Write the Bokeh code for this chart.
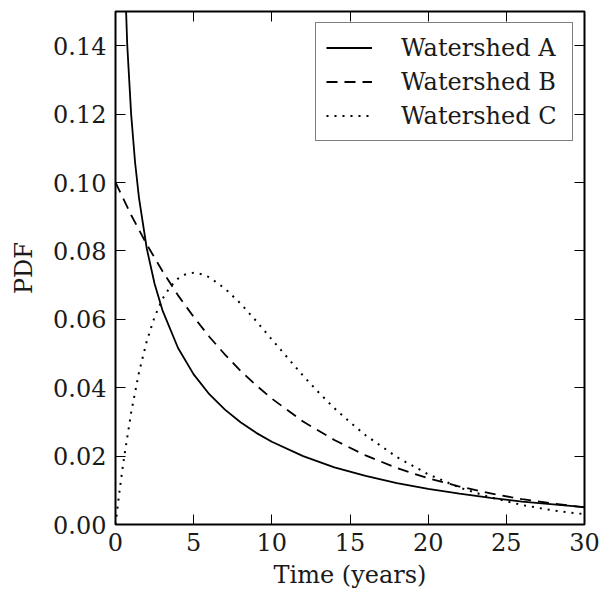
from bokeh.plotting import figure
from bokeh.models import LinearAxis, Range1d, Legend, LegendItem, FixedTicker, CustomJSTickFormatter
from bokeh.embed import file_html
from bokeh.resources import INLINE

# Data
t_a = [0.3, 0.5, 0.75, 1, 1.25, 1.5, 2, 2.5, 3, 4, 5, 6, 7, 8, 9, 10, 12, 14, 16, 18, 20, 22, 24, 26, 28, 30]
pdf_a = [0.227, 0.174, 0.1403, 0.1200, 0.106, 0.0956, 0.0807, 0.0704, 0.0627, 0.0516, 0.0439, 0.0381,
         0.0336, 0.0299, 0.0268, 0.0242, 0.0200, 0.0167, 0.0142, 0.0121, 0.0104, 0.0090, 0.0078,
         0.0067, 0.0059, 0.0051]

t_b = [0, 1, 2, 3, 4, 5, 6, 7, 8, 9, 10, 12, 14, 16, 18, 20, 22, 24, 26, 28, 30]
pdf_b = [0.1, 0.0905, 0.0819, 0.0741, 0.0670, 0.0607, 0.0549, 0.0497, 0.0449, 0.0407, 0.0368,
         0.0301, 0.0247, 0.0202, 0.0165, 0.0135, 0.0111, 0.0091, 0.0074, 0.0061, 0.0050]

t_c = [0, 0.25, 0.5, 1, 1.5, 2, 2.5, 3, 3.5, 4, 4.5, 5, 5.5, 6, 7, 8, 9, 10, 11, 12, 13, 14, 15, 16,
       18, 20, 22, 24, 26, 28, 30]
pdf_c = [0.0, 0.0095, 0.0181, 0.0327, 0.0444, 0.0536, 0.0607, 0.0659, 0.0695, 0.0719, 0.0732, 0.0736,
         0.0732, 0.0723, 0.0690, 0.0646, 0.0595, 0.0541, 0.0488, 0.0435, 0.0386, 0.0340, 0.0299,
         0.0261, 0.0197, 0.0147, 0.0108, 0.0079, 0.0057, 0.0041, 0.0030]

labels = ["Watershed A", "Watershed B", "Watershed C"]
x_ticks = [0, 5, 10, 15, 20, 25, 30]
y_ticks = [0.00, 0.02, 0.04, 0.06, 0.08, 0.10, 0.12, 0.14]

FONT = "DejaVu Serif"
FS = "24px"
TXT = "#1a1a1a"

p = figure(width=600, height=597, output_backend="svg", toolbar_location=None,
           x_range=Range1d(0, 30), y_range=Range1d(0, 0.15),
           min_border_left=115, min_border_right=16, min_border_top=11, min_border_bottom=73,
           x_axis_label="Time (years)", y_axis_label="PDF")
p.grid.visible = False
p.outline_line_color = "black"
p.outline_line_width = 2
p.background_fill_color = "white"
p.border_fill_color = "white"

ra = p.line(t_a, pdf_a, line_color="black", line_width=1.8)
rb = p.line(t_b, pdf_b, line_color="black", line_width=1.8, line_dash="11 7")
rc = p.line(t_c, pdf_c, line_color="black", line_width=2, line_dash="2 6")

def style_axis(ax, ticks, show_labels=True):
    ax.ticker = FixedTicker(ticks=ticks)
    ax.major_tick_in = 10
    ax.major_tick_out = 0
    ax.minor_tick_in = 0
    ax.minor_tick_out = 0
    ax.major_tick_line_width = 1
    ax.axis_line_color = None
    ax.major_label_text_font = FONT
    ax.major_label_text_font_size = FS
    ax.major_label_text_color = TXT
    ax.axis_label_text_font = FONT
    ax.axis_label_text_font_size = FS
    ax.axis_label_text_font_style = "normal"
    ax.axis_label_text_color = TXT
    if not show_labels:
        ax.major_label_text_font_size = "0px"
        ax.major_label_text_alpha = 0

style_axis(p.xaxis[0], x_ticks)
style_axis(p.yaxis[0], y_ticks)
p.xaxis[0].major_label_standoff = 8
p.xaxis[0].axis_label_standoff = 7
p.yaxis[0].major_label_standoff = 9
p.yaxis[0].axis_label_standoff = 12
p.yaxis[0].formatter = CustomJSTickFormatter(code="return tick.toFixed(2);")

top = LinearAxis()
right = LinearAxis()
style_axis(top, x_ticks, show_labels=False)
style_axis(right, y_ticks, show_labels=False)
top.major_label_standoff = 0
right.major_label_standoff = 0
p.add_layout(top, "above")
p.add_layout(right, "right")

legend = Legend(items=[LegendItem(label=labels[0], renderers=[ra]),
                       LegendItem(label=labels[1], renderers=[rb]),
                       LegendItem(label=labels[2], renderers=[rc])],
                location="top_right")
legend.label_text_font = FONT
legend.label_text_font_size = FS
legend.label_text_color = TXT
legend.glyph_width = 46
legend.glyph_height = 29
legend.label_height = 29
legend.label_width = 161
legend.label_standoff = 29
legend.spacing = 5
legend.padding = 10
legend.margin = 11
legend.border_line_color = "black"
legend.border_line_width = 1.5
legend.background_fill_alpha = 1
p.add_layout(legend, "center")

open("out.html", "w").write(file_html(p, INLINE))
